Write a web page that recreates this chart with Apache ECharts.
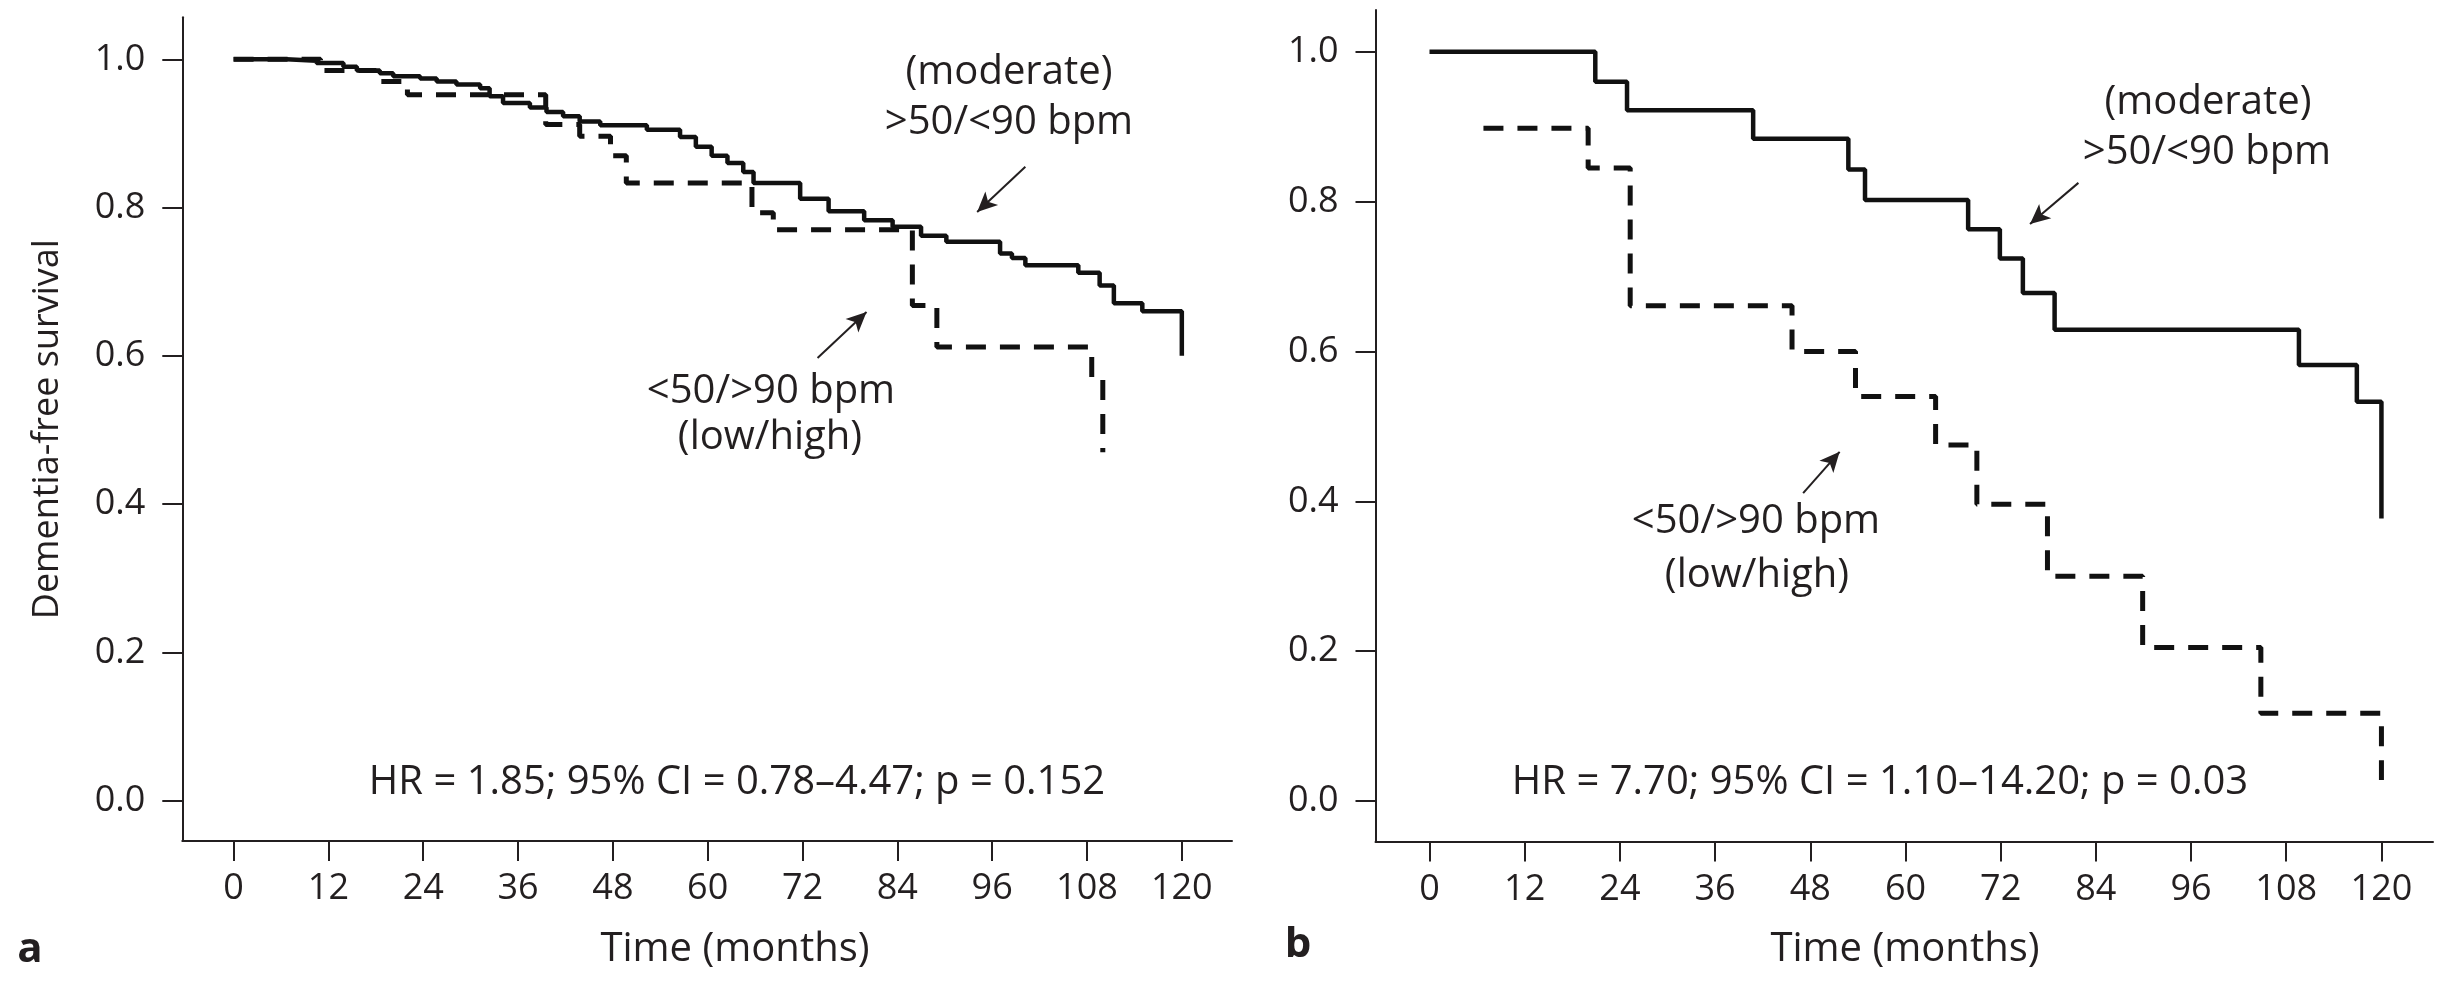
<!DOCTYPE html>
<html>
<head>
<meta charset="utf-8">
<script src="https://cdn.jsdelivr.net/npm/echarts@6/dist/echarts.min.js"></script>
<style>
html,body{margin:0;padding:0;background:#fff;}
#chart{width:2447px;height:999px;}
</style>
</head>
<body>
<div id="chart"></div>
<script>
// ---- data ----
const xTicks = [0, 12, 24, 36, 48, 60, 72, 84, 96, 108, 120];
const yTicks = [0, 0.2, 0.4, 0.6, 0.8, 1.0];

// panel a : moderate (>50/<90 bpm), solid
const aModTime = [0, 6.7, 10.5, 13.9, 15.6, 18.5, 20.2, 23.6, 25.7, 28.2, 31.2, 32.4, 34.1, 37.5, 39.6, 41.7, 43.8, 46.4, 52.3, 56.5, 58.5, 60.5, 62.5, 64.5, 65.8, 71.7, 75.3, 79.8, 83.4, 87.0, 90.2, 97.0, 98.5, 100.2, 106.9, 109.6, 111.4, 115.0, 120, 120];
const aModSurv = [1.0, 0.998, 0.995, 0.99, 0.985, 0.981, 0.977, 0.974, 0.970, 0.966, 0.961, 0.950, 0.941, 0.935, 0.929, 0.923, 0.916, 0.911, 0.905, 0.895, 0.882, 0.870, 0.860, 0.848, 0.833, 0.812, 0.795, 0.783, 0.774, 0.762, 0.754, 0.738, 0.732, 0.722, 0.712, 0.695, 0.671, 0.660, 0.660, 0.600];
// panel a : low/high (<50/>90 bpm), dashed
const aLowTime = [0, 11, 18, 22, 39.5, 43.8, 47.7, 49.7, 65.6, 68.3, 85.9, 89.0, 108.6, 110.0];
const aLowSurv = [1.0, 0.985, 0.970, 0.952, 0.912, 0.896, 0.870, 0.833, 0.793, 0.770, 0.668, 0.612, 0.570, 0.470];

// panel b : moderate, solid
const bModTime = [0, 20.9, 24.9, 40.8, 52.8, 54.9, 67.9, 71.9, 74.8, 78.8, 109.6, 116.9, 120, 120];
const bModSurv = [1.0, 0.960, 0.922, 0.884, 0.843, 0.802, 0.763, 0.724, 0.678, 0.629, 0.582, 0.533, 0.533, 0.377];
// panel b : low/high, dashed
const bLowTime = [6.8, 20.0, 25.3, 45.7, 53.7, 63.8, 69.0, 77.9, 89.9, 104.8, 120, 120];
const bLowSurv = [0.898, 0.845, 0.661, 0.600, 0.540, 0.475, 0.396, 0.300, 0.205, 0.117, 0.117, 0.028];

// annotation arrows [fromX, fromY, toX, toY] in data units
const aModArrow = [100.2, 0.855, 94.1, 0.794];
const aLowArrow = [73.9, 0.597, 80.1, 0.659];
const bModArrow = [81.8, 0.825, 75.7, 0.770];
const bLowArrow = [47.1, 0.411, 51.7, 0.466];

const statsA = 'HR = 1.85; 95% CI = 0.78\u20134.47; p = 0.152';
const statsB = 'HR = 7.70; 95% CI = 1.10\u201314.20; p = 0.03';
const yTitle = 'Dementia-free survival';
const xTitle = 'Time (months)';

// ---- chart ----
const FONT = '"Open Sans", "Noto Sans", sans-serif';
const TXT = '#231f20';
const LINE = '#111111';
const zip = (t, s) => t.map((v, i) => [v, s[i]]);

function xAxisCfg(gi, min, max) {
  return {
    type: 'value', gridIndex: gi, min: min, max: max,
    axisLine: { show: true, onZero: false, lineStyle: { color: TXT, width: 2 } },
    axisTick: { show: true, inside: false, length: 20, lineStyle: { color: TXT, width: 2 }, customValues: xTicks },
    axisLabel: { show: true, margin: 30, fontFamily: FONT, fontSize: 36, color: TXT, customValues: xTicks, formatter: v => String(v) },
    splitLine: { show: false }
  };
}
function yAxisCfg(gi, min, max, extra) {
  return Object.assign({
    type: 'value', gridIndex: gi, min: min, max: max,
    axisLine: { show: true, onZero: false, lineStyle: { color: TXT, width: 2 } },
    axisTick: { show: true, inside: false, length: 20, lineStyle: { color: TXT, width: 2 }, customValues: yTicks },
    axisLabel: { show: true, margin: 37, fontFamily: FONT, fontSize: 36, color: TXT, customValues: yTicks, formatter: v => v.toFixed(1) },
    splitLine: { show: false }
  }, extra || {});
}
function arrow(a) {
  return {
    silent: true, animation: false,
    symbol: ['none', 'arrow'], symbolSize: [14, 20],
    label: { show: false },
    lineStyle: { color: TXT, width: 2, type: 'solid' },
    data: [[{ coord: [a[0], a[1]] }, { coord: [a[2], a[3]] }]]
  };
}
function kmSeries(idx, data, dashed, arr) {
  const s = {
    type: 'line', xAxisIndex: idx, yAxisIndex: idx, step: 'end',
    data: data, showSymbol: false, symbol: 'none', silent: true,
    lineStyle: dashed ? { color: LINE, width: 5, type: [20, 14], cap: 'butt' } : { color: LINE, width: 4.5, type: 'solid' },
    z: dashed ? 3 : 4
  };
  if (arr) s.markLine = arrow(arr);
  return s;
}
function txt(x, y, text, size) {
  return {
    type: 'text', x: x, y: y, silent: true,
    style: { text: text, font: size + 'px ' + FONT, fill: TXT, align: 'center', verticalAlign: 'middle' }
  };
}

const chart = echarts.init(document.getElementById('chart'), null, { renderer: 'canvas' });
chart.setOption({
  animation: false,
  backgroundColor: '#ffffff',
  grid: [
    { left: 182.3, top: 17.3, width: 1049.7, height: 823.7 },
    { left: 1375.5, top: 10, width: 1057.5, height: 831.5 }
  ],
  xAxis: [xAxisCfg(0, -6.49, 126.35), xAxisCfg(1, -6.807, 126.5)],
  yAxis: [
    yAxisCfg(0, -0.0544, 1.0566, { name: yTitle, nameLocation: 'middle', nameGap: 117, nameRotate: 90, nameTextStyle: { fontFamily: FONT, fontSize: 36, color: TXT } }),
    yAxisCfg(1, -0.054, 1.0557)
  ],
  series: [
    kmSeries(0, zip(aLowTime, aLowSurv), true, aLowArrow),
    kmSeries(0, zip(aModTime, aModSurv), false, aModArrow),
    kmSeries(1, zip(bLowTime, bLowSurv), true, bLowArrow),
    kmSeries(1, zip(bModTime, bModSurv), false, bModArrow)
  ],
  graphic: [
    txt(1009, 73, '(moderate)', 40),
    txt(1009, 123, '>50/<90 bpm', 40),
    txt(771, 392, '<50/>90 bpm', 40),
    txt(770, 438, '(low/high)', 40),
    txt(737, 783, statsA, 40),
    txt(2208, 103, '(moderate)', 40),
    txt(2207, 153, '>50/<90 bpm', 40),
    txt(1756, 522, '<50/>90 bpm', 40),
    txt(1757, 576, '(low/high)', 40),
    txt(1880, 783, statsB, 40),
    txt(735, 950, xTitle, 40),
    txt(1905, 950, xTitle, 40),
    { type: 'text', x: 30, y: 950, silent: true, style: { text: 'a', font: 'bold 42px ' + FONT, fill: TXT, align: 'center', verticalAlign: 'middle' } },
    { type: 'text', x: 1298, y: 945, silent: true, style: { text: 'b', font: 'bold 42px ' + FONT, fill: TXT, align: 'center', verticalAlign: 'middle' } }
  ]
});
</script>
</body>
</html>
